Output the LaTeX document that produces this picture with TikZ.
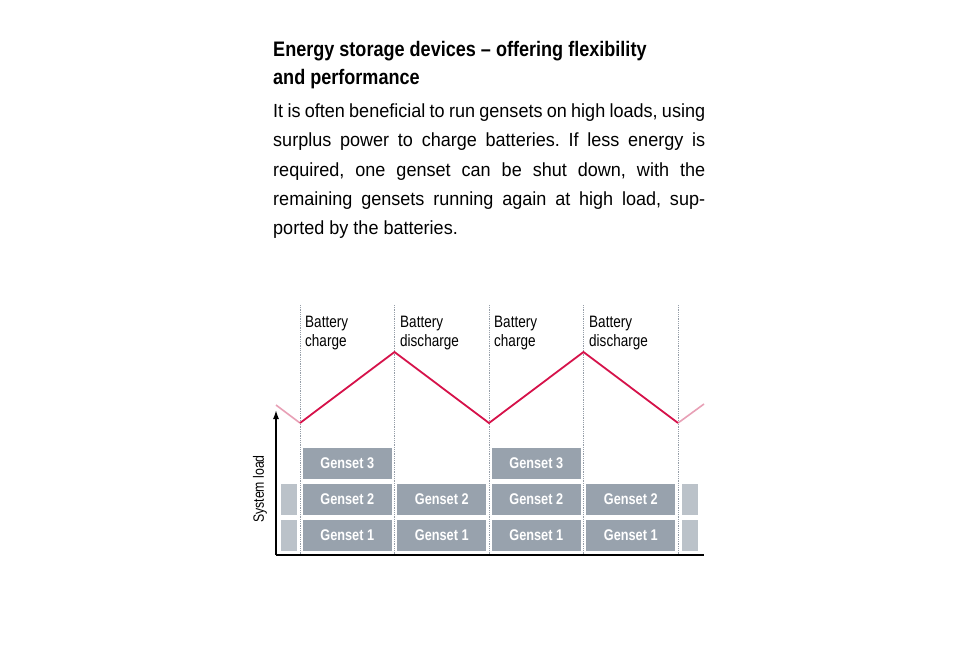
\documentclass[tikz,border=0pt]{standalone}
\usepackage{fontspec}
\setmainfont{Liberation Sans}
\newfontfamily\bodyfont[FakeStretch=0.95]{Liberation Sans}
\newfontfamily\condfont[FakeStretch=0.82]{Liberation Sans}
\newfontfamily\headfont[FakeStretch=0.86]{Liberation Sans Bold}
\usepackage{tikz}
\usetikzlibrary{arrows.meta}
\definecolor{loadred}{RGB}{214,18,74}
\definecolor{loadpink}{RGB}{232,160,182}
\definecolor{gensetgrey}{RGB}{152,162,173}
\definecolor{gridgrey}{RGB}{150,158,168}
\tikzset{
    genset/.style={draw=none, fill=gensetgrey, minimum width=89pt, minimum height=31pt,
        inner sep=0pt, text=white, font=\condfont\fontsize{15.5}{15.5}\selectfont\bfseries},
    stub/.style={genset, opacity=0.65, minimum width=16pt},
    phase/.style={anchor=north west, align=left, inner sep=0pt,
        font=\condfont\fontsize{16.5}{18.5}\selectfont},
    bodyline/.style={anchor=base west, inner sep=0pt, font=\bodyfont\fontsize{19}{19}\selectfont},
    divider/.style={gridgrey, densely dotted, line width=0.8pt}}
\frenchspacing

\begin{document}
\begin{tikzpicture}[x=1pt, y=-1pt]
                    \useasboundingbox[fill=white] (0,0) rectangle (957,659);

                    % heading and text
                    \node[anchor=base west, inner sep=0pt, font=\headfont\fontsize{21}{21}\selectfont] (H1) at (273,56) {Energy storage devices – offering flexibility};
                    \node[anchor=base west, inner sep=0pt, font=\headfont\fontsize{21}{21}\selectfont] (H2) at (273,84) {and performance};
                    \node[bodyline] (L1) at (273,117) {\makebox[432pt][s]{It is often beneficial to run gensets on high loads, using}};
                    \node[bodyline] (L2) at (273,146.5) {\makebox[432pt][s]{surplus power to charge batteries. If less energy is}};
                    \node[bodyline] (L3) at (273,176) {\makebox[432pt][s]{required, one genset can be shut down, with the}};
                    \node[bodyline] (L4) at (273,205) {\makebox[432pt][s]{remaining gensets running again at high load, sup-}};
                    \node[bodyline] (L5) at (273,234) {ported by the batteries.};

                    % phase dividers
                    \coordinate (d1) at (300,305);   \coordinate (e1) at (300,555);
                    \coordinate (d2) at (394.5,305); \coordinate (e2) at (394.5,555);
                    \coordinate (d3) at (489,305);   \coordinate (e3) at (489,555);
                    \coordinate (d4) at (583.5,305); \coordinate (e4) at (583.5,555);
                    \coordinate (d5) at (678,305);   \coordinate (e5) at (678,555);
                    \draw[divider] (d1) -- (e1);
                    \draw[divider] (d2) -- (e2);
                    \draw[divider] (d3) -- (e3);
                    \draw[divider] (d4) -- (e4);
                    \draw[divider] (d5) -- (e5);

                    \node[phase] (P1) at (305,316) {Battery\\charge};
                    \node[phase] (P2) at (400,316) {Battery\\discharge};
                    \node[phase] (P3) at (494,316) {Battery\\charge};
                    \node[phase] (P4) at (589,316) {Battery\\discharge};

                    % battery level
                    \coordinate (z0) at (276,405);
                    \coordinate (z1) at (300,423);
                    \coordinate (z2) at (394.5,352);
                    \coordinate (z3) at (489,423);
                    \coordinate (z4) at (583.5,352);
                    \coordinate (z5) at (678,423);
                    \coordinate (z6) at (704,404);
                    \draw[loadpink, line width=1.6pt] (z0) -- (z1);
                    \draw[loadpink, line width=1.6pt] (z5) -- (z6);
                    \draw[loadred, line width=1.8pt, line join=miter] (z1) -- (z2) -- (z3) -- (z4) -- (z5);

                    % gensets
                    \node[stub] (G1s) at (288.5,535) {};
                    \node[stub] (G2s) at (288.5,499.5) {};
                    \node[genset] (G3a) at (347.25,463.5) {Genset 3};
                    \node[genset] (G2a) at (347.25,499.5) {Genset 2};
                    \node[genset] (G1a) at (347.25,535) {Genset 1};
                    \node[genset] (G2b) at (441.75,499.5) {Genset 2};
                    \node[genset] (G1b) at (441.75,535) {Genset 1};
                    \node[genset] (G3c) at (536.25,463.5) {Genset 3};
                    \node[genset] (G2c) at (536.25,499.5) {Genset 2};
                    \node[genset] (G1c) at (536.25,535) {Genset 1};
                    \node[genset] (G2d) at (630.75,499.5) {Genset 2};
                    \node[genset] (G1d) at (630.75,535) {Genset 1};
                    \node[stub] (G2e) at (690,499.5) {};
                    \node[stub] (G1e) at (690,535) {};

                    % axes
                    \coordinate (O) at (276,555);
                    \coordinate (Y) at (276,410);
                    \coordinate (X) at (704,555);
                    \draw[line width=1.5pt, -{Latex[length=9pt,width=6pt]}] (O) -- (Y);
                    \draw[line width=1.5pt] (O) -- (X);
                    \node[rotate=90, inner sep=0pt, font=\condfont\fontsize{15}{15}\selectfont] (S) at (260,489) {System load};

                \end{tikzpicture}
\end{document}
